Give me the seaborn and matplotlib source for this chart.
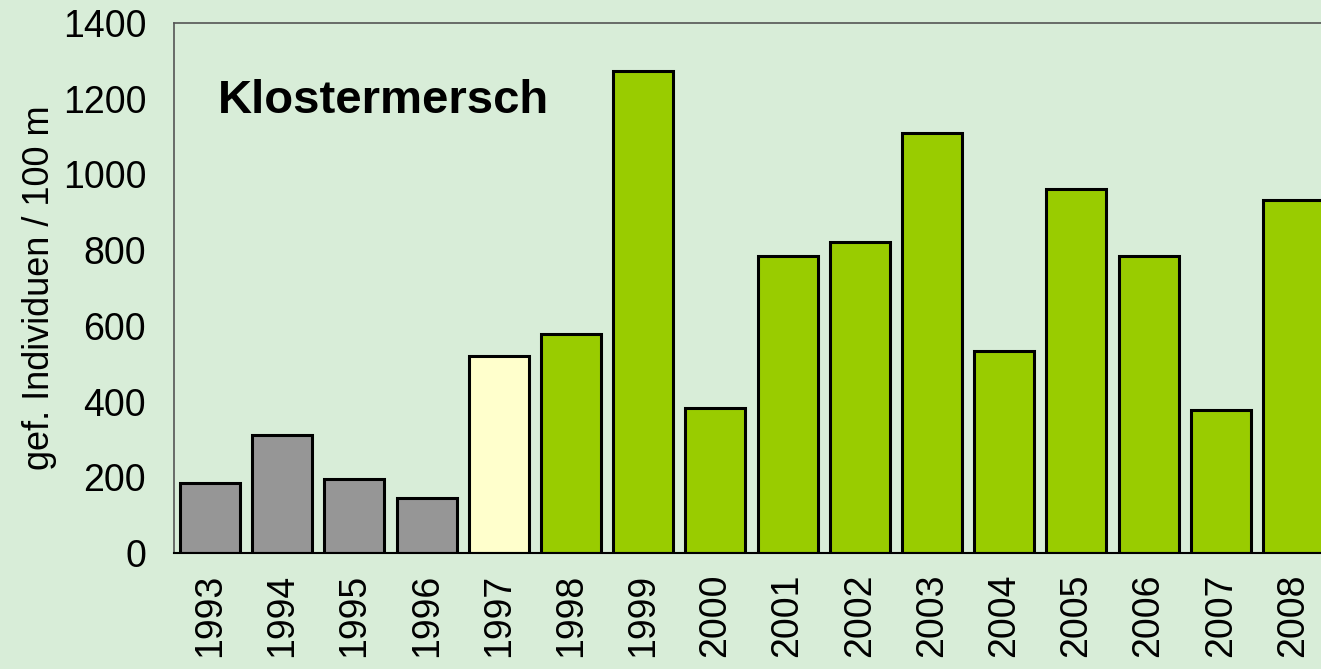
import numpy as np
import pandas as pd
import matplotlib
matplotlib.use("Agg")
import matplotlib.pyplot as plt
import seaborn as sns

# Werte
years = ["1993", "1994", "1995", "1996", "1997", "1998", "1999", "2000",
         "2001", "2002", "2003", "2004", "2005", "2006", "2007", "2008"]
counts = [185, 312, 195, 145, 520, 578, 1273, 383,
          784, 821, 1109, 534, 961, 784, 378, 932]
bar_colors = ["#969696"] * 4 + ["#FFFFCC"] + ["#99CC00"] * 11

df = pd.DataFrame({"year": years, "count": counts})

sns.set_style("white")
plt.rcParams['font.family'] = ['Liberation Sans', 'DejaVu Sans']
plt.rcParams['text.color'] = 'black'
plt.rcParams['axes.labelcolor'] = 'black'
plt.rcParams['xtick.color'] = 'black'
plt.rcParams['ytick.color'] = 'black'

bg = "#D8EDD8"
fig = plt.figure(figsize=(13.21, 6.69), dpi=100, facecolor=bg)
ax = fig.add_axes([0.1317, 0.1734, 0.8744, 0.7922])
ax.set_facecolor(bg)

sns.barplot(data=df, x="year", y="count", hue="year", palette=bar_colors,
            legend=False, width=0.83, edgecolor="black", linewidth=2.2,
            saturation=1, ax=ax)

ax.set_xlim(-0.5, len(years) - 0.5)
ax.set_ylim(0, 1400)
ax.set_yticks(np.arange(0, 1401, 200))
ax.tick_params(axis="y", labelsize=27, length=8, width=1.2, color="#333333",
               labelcolor="black", direction="out", pad=12)

# Striche an den Kategoriegrenzen, Beschriftung in der Mitte
ax.set_xticks(np.arange(-0.5, len(years), 1))
ax.set_xticklabels([])
ax.set_xticks(np.arange(len(years)), minor=True)
ax.set_xticklabels(years, minor=True, rotation=90, fontsize=27)
ax.tick_params(axis="x", which="major", length=8, width=1.2, color="#333333",
               direction="out")
ax.tick_params(axis="x", which="minor", length=0, pad=15, labelcolor="black")

ax.set_xlabel("")
ax.set_ylabel("gef. Individuen / 100 m", fontsize=26, labelpad=4,
              color="black")

for side in ["left", "top"]:
    ax.spines[side].set_color("#555555")
    ax.spines[side].set_linewidth(1.2)
ax.spines["bottom"].set_color("black")
ax.spines["bottom"].set_linewidth(1.5)
ax.spines["right"].set_visible(False)

ax.text(0.038, 0.852, "Klostermersch", transform=ax.transAxes,
        fontsize=34, fontweight="bold", ha="left", va="center", color="black")

fig.savefig("out.png", dpi=100, facecolor=bg)
